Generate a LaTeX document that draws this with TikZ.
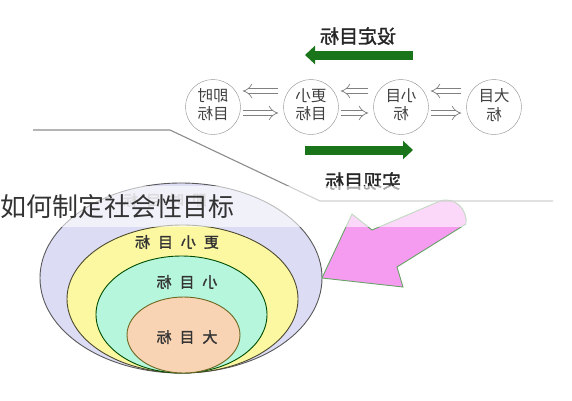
\documentclass[tikz,border=0pt]{standalone}
\usepackage{fontspec}
\usepackage{graphicx}
\usetikzlibrary{arrows.meta}
\newfontfamily\cjk{Noto Sans CJK SC}
\newfontfamily\cjkbf[FakeBold=1.5]{Noto Sans CJK SC}
\definecolor{lavender}{HTML}{DCDCF4}
\definecolor{lemon}{HTML}{FCF8A2}
\definecolor{mint}{HTML}{B6F6DC}
\definecolor{peach}{HTML}{F8D4B4}
\definecolor{orchid}{HTML}{F69CF0}
\definecolor{leaf}{HTML}{1A741A}
\newcommand{\gap}{\hspace{8pt}}
\tikzstyle{goal}=[circle,draw=black!45,fill=white,minimum size=55pt,inner sep=0pt,font=\cjk\fontsize{15.5}{18}\selectfont,text=black!75]
\tikzstyle{hollow}=[draw=black!50,line width=0.7pt,double=white,double distance=4.5pt,-{Implies[length=6pt,width=13pt]}]
\tikzstyle{bigarrow}=[draw=leaf,line width=9pt,-{Triangle[length=10pt,width=18pt]}]
\tikzstyle{ringlabel}=[font=\cjkbf\fontsize{15}{15}\selectfont,text=black!80]
\tikzstyle{arrowlabel}=[font=\cjkbf\fontsize{19}{19}\selectfont,text=black!85]

\begin{document}
\begin{tikzpicture}[x=1pt,y=-1pt]
    \useasboundingbox (0,0) rectangle (572,400);
    % First the nested goals, biggest ring first
    \foreach \c/\rx/\ry/\fillc/\drawc in {{(181,278)/141/95/lavender/black!65},
                                         {(182.5,299)/115.5/74/lemon/black!60!olive},
                                         {(181.5,314.5)/85.5/58.5/mint/green!30!black},
                                         {(183.5,335)/56.5/38/peach/olive!70!black}}
        \filldraw[fill=\fillc, draw=\drawc, line width=0.9pt] \c ellipse [x radius=\rx, y radius=\ry];
    \node[ringlabel, text=black!35] (ring0) at (165,200) {\reflectbox{即\gap 时\gap 目\gap 标}};
    \node[ringlabel] (ring1) at (177,242) {\reflectbox{更\gap 小\gap 目\gap 标}};
    \node[ringlabel] (ring2) at (187,282) {\reflectbox{小\gap 目\gap 标}};
    \node[ringlabel] (ring3) at (187,337) {\reflectbox{大\gap 目\gap 标}};
    % The pink pointer into the rings
    \filldraw[fill=orchid, draw=black!60!green!60, line width=0.9pt]
        (322,278) -- (352,214) -- (372,230) -- (440,201)
        .. controls (455,196) and (468,210) .. (466,224)
        -- (397,267) -- (403,287) -- cycle;
    % Divider line
    \coordinate (l1) at (33,130);
    \coordinate (l2) at (170,130);
    \coordinate (l3) at (320,201);
    \coordinate (l4) at (553,201);
    \draw[black!45, line width=1.1pt] (l1) -- (l2) -- (l3) -- (l4);
    % The chain of goals
    \foreach \pos/\name/\first/\second in {{(213,107)/now/即时/目标}, {(311,107)/smaller/更小/目标},
                                          {(401,107)/small/小目/标}, {(494,107)/big/大目/标}}
        \node[goal] (\name) at \pos {\reflectbox{\begin{tabular}{@{}c@{}}\first\\\second\end{tabular}}};
    \foreach \a/\b in {now/smaller, smaller/small, small/big} {
        \draw[hollow] ([xshift=-5pt,yshift=16pt]\b.west) -- ([xshift=2pt,yshift=16pt]\a.east);
        \draw[hollow] ([xshift=2pt,yshift=-6pt]\a.east) -- ([xshift=-5pt,yshift=-6pt]\b.west);
    }
    % Green arrows with their labels
    \coordinate (setS) at (413,55);
    \coordinate (setE) at (305,55);
    \coordinate (reachS) at (305,150);
    \coordinate (reachE) at (413,150);
    \draw[bigarrow] (setS) -- (setE);
    \draw[bigarrow] (reachS) -- (reachE);
    \node[arrowlabel] (setlabel) at (358,36) {\reflectbox{设定目标}};
    \node[arrowlabel] (reachlabel) at (363,181) {\reflectbox{实现目标}};
    % Title band on top
    \fill[white, opacity=0.6] (0,186) rectangle (572,227);
    \node[anchor=west, inner sep=0pt, font=\cjk\fontsize{26}{26}\selectfont, text=black!80] (title) at (0,207) {如何制定社会性目标};
\end{tikzpicture}
\end{document}
